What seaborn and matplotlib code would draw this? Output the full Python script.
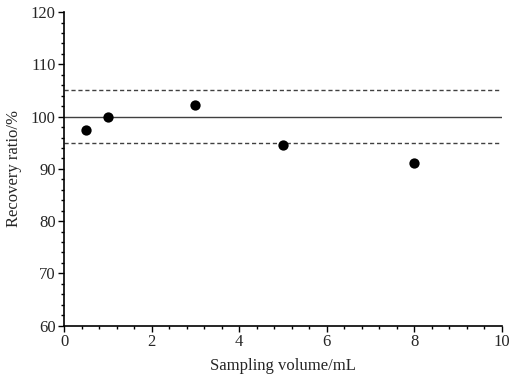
import numpy as np
import pandas as pd
import matplotlib
matplotlib.use('Agg')
import matplotlib.pyplot as plt
from matplotlib.ticker import MultipleLocator
import seaborn as sns

# data
volume = [0.5, 1, 3, 5, 8]
recovery = [97.4, 100.0, 102.3, 94.6, 91.1]
ref_line = 100
limits = [95, 105]

df = pd.DataFrame({'volume': volume, 'recovery': recovery})

sns.set_style('ticks')
plt.rcParams['font.family'] = ['Liberation Serif', 'DejaVu Serif']

fig = plt.figure(figsize=(5.1, 3.79), dpi=100)
ax = fig.add_axes([0.1255, 0.141, 0.8585, 0.827])

ax.axhline(ref_line, color='0.25', lw=1.0, zorder=1)
for lim in limits:
    ax.axhline(lim, color='0.25', lw=1.0, ls=(0, (3, 2)), zorder=1)

sns.scatterplot(data=df, x='volume', y='recovery', ax=ax, color='black',
                s=55, edgecolor='black', linewidth=0, zorder=3)

ax.set_xlim(0, 10)
ax.set_ylim(60, 120)
ax.xaxis.set_major_locator(MultipleLocator(2))
ax.xaxis.set_minor_locator(MultipleLocator(0.4))
ax.yaxis.set_major_locator(MultipleLocator(10))
ax.yaxis.set_minor_locator(MultipleLocator(2))
ax.tick_params(which='major', direction='out', length=4, width=1.0, labelsize=12, pad=2, color='black')
ax.tick_params(which='minor', direction='out', length=2.5, width=1.0, color='black')

for side in ['top', 'right']:
    ax.spines[side].set_visible(False)
for side in ['left', 'bottom']:
    ax.spines[side].set_linewidth(1.2)
    ax.spines[side].set_color('black')

ax.set_xlabel('Sampling volume/mL', fontsize=12, labelpad=6)
ax.set_ylabel('Recovery ratio/%', fontsize=12, labelpad=6)

plt.savefig('out.png', dpi=100)
